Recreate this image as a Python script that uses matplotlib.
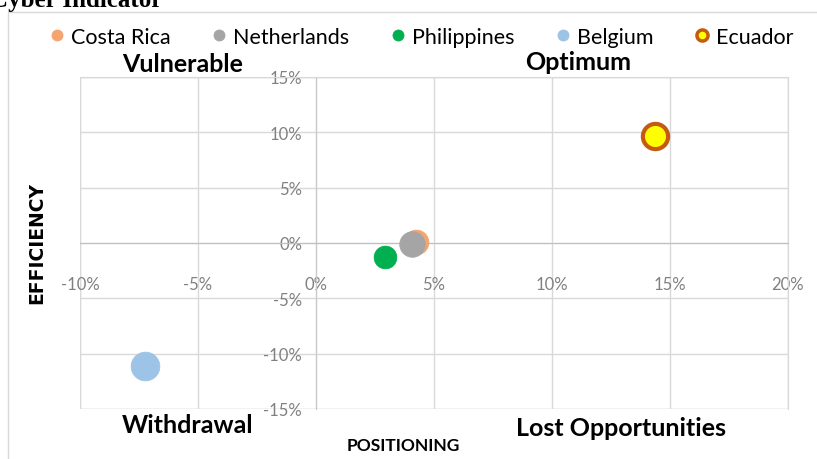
"""Cyber indicator quadrant chart: positioning vs efficiency."""

import matplotlib

matplotlib.use("Agg")
import matplotlib.pyplot as plt
from matplotlib.ticker import FuncFormatter, MultipleLocator
from matplotlib.lines import Line2D
from matplotlib.patches import Rectangle

countries = ["Costa Rica", "Netherlands", "Philippines", "Belgium", "Ecuador"]
positioning = [4.24, 4.07, 2.92, -7.25, 14.36]
efficiency = [0.09, -0.09, -1.26, -11.1, 9.67]
fill_colors = ["#F4A46F", "#A5A5A5", "#00B050", "#9DC3E6", "#FFFF00"]
edge_colors = ["#F4A46F", "#A5A5A5", "#00B050", "#9DC3E6", "#C55A11"]
marker_sizes = [320, 340, 270, 430, 330]

FONT = ["Lato", "DejaVu Sans"]

fig = plt.figure(figsize=(8.17, 4.60), dpi=100)
ax = fig.add_axes([80 / 817, 1 - 410 / 460, 708 / 817, 332 / 460])

for i, name in enumerate(countries):
    ax.scatter(
        positioning[i],
        efficiency[i],
        s=marker_sizes[i],
        color=fill_colors[i],
        edgecolors=edge_colors[i],
        linewidths=3 if name == "Ecuador" else 0.5,
        zorder=3,
    )

ax.set_xlim(-10, 20)
ax.set_ylim(-15, 15)
ax.xaxis.set_major_locator(MultipleLocator(5))
ax.yaxis.set_major_locator(MultipleLocator(5))
pct = FuncFormatter(lambda v, _: f"{v:.0f}%")
ax.xaxis.set_major_formatter(pct)
ax.yaxis.set_major_formatter(pct)

ax.grid(True, color="#D9D9D9", linewidth=1)
ax.set_axisbelow(True)
for side in ["top", "right"]:
    ax.spines[side].set_color("#D9D9D9")
ax.spines["left"].set_position(("data", 0))
ax.spines["bottom"].set_position(("data", 0))
ax.spines["left"].set_color("#C8C8C8")
ax.spines["bottom"].set_color("#BFBFBF")
ax.add_patch(Rectangle((0, 0), 1, 1, transform=ax.transAxes, fill=False,
                       edgecolor="#D9D9D9", linewidth=1, zorder=0))
ax.tick_params(axis="both", length=0, labelsize=12, labelcolor="#808080")
ax.tick_params(axis="x", pad=24)
ax.tick_params(axis="y", pad=10)
for lab in ax.get_xticklabels() + ax.get_yticklabels():
    lab.set_family(FONT)

# chart frame and cut-off title
fig.add_artist(Rectangle((8 / 817, -0.05), 1.0, 1 - 13 / 460 + 0.05,
                         transform=fig.transFigure, fill=False,
                         edgecolor="#D9D9D9", linewidth=1))
fig.text(-0.012, 0.998, "Cyber Indicator", family="Liberation Serif",
         fontweight="bold", fontsize=18, va="center", ha="left")

# legend
handles = [
    Line2D([], [], marker="o", linestyle="", markersize=8,
           markerfacecolor=fill_colors[i], markeredgecolor=edge_colors[i],
           markeredgewidth=2.5 if n == "Ecuador" else 0.5)
    for i, n in enumerate(countries)
]
fig.legend(handles, countries, loc="center", bbox_to_anchor=(0.514, 1 - 38 / 460),
           ncol=5, frameon=False, handletextpad=0.15, columnspacing=1.75,
           handlelength=1.0, prop={"family": FONT, "size": 15.5})

# quadrant labels
quad = dict(family=FONT, fontweight="bold", fontsize=18, ha="center", va="center")
fig.text(183 / 817, 1 - 64 / 460, "Vulnerable", **quad)
fig.text(578 / 817, 1 - 63 / 460, "Optimum", **quad)
fig.text(188 / 817, 1 - 426 / 460, "Withdrawal", **quad)
fig.text(621 / 817, 1 - 429 / 460, "Lost Opportunities", **quad)

fig.text(403 / 817, 1 - 446 / 460, "POSITIONING", family=FONT,
         fontweight="bold", fontsize=12.5, ha="center", va="center")
fig.text(37 / 817, 1 - 243 / 460, "EFFICIENCY", family="DejaVu Sans",
         fontweight="bold", fontsize=13.5, ha="center", va="center", rotation=90)

fig.savefig("out.png", dpi=100)
